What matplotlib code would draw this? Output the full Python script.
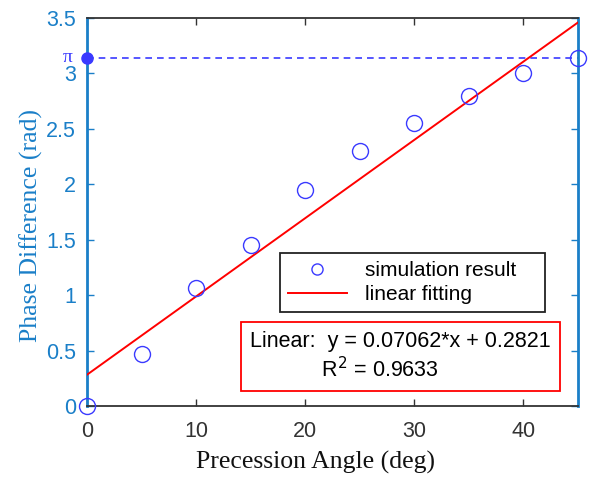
import numpy as np
import matplotlib
matplotlib.use('Agg')
import matplotlib.pyplot as plt
from matplotlib.lines import Line2D

# data
angle = [0, 5, 10, 15, 20, 25, 30, 35, 40, 45]
phase = [0.0, 0.47, 1.06, 1.45, 1.95, 2.30, 2.55, 2.80, 3.00, 3.14]
slope = 0.07062
intercept = 0.2821
r2 = 0.9633
x_ticks = [0, 10, 20, 30, 40]
y_ticks = [0, 0.5, 1, 1.5, 2, 2.5, 3, 3.5]

axis_blue = '#1a7fc8'
mark_blue = '#3a3aff'

plt.rcParams['font.family'] = ['Liberation Sans', 'DejaVu Sans']

fig = plt.figure(figsize=(5.89, 4.79), dpi=100)
ax = fig.add_axes([0.1477, 0.1524, 0.8336, 0.81])

# fitted line
xf = np.array([0, 45])
ax.plot(xf, slope * xf + intercept, color='red', lw=1.4, zorder=3)

# simulation points
ax.plot(angle, phase, 'o', ms=11.5, mfc='none', mec=mark_blue, mew=1.0,
        clip_on=False, zorder=4)

# pi reference
ax.axhline(np.pi, color=mark_blue, ls=(0, (4, 3)), lw=1.2, zorder=2)
ax.plot([0], [np.pi], 'o', ms=8, color=mark_blue, clip_on=False, zorder=5)
ax.text(-1.3, np.pi, 'π', color=mark_blue, fontsize=14, family='Liberation Serif',
        ha='right', va='center')

ax.set_xlim(0, 45)
ax.set_ylim(0, 3.5)
ax.set_xticks(x_ticks)
ax.set_yticks(y_ticks)
ax.set_yticklabels(['0', '0.5', '1', '1.5', '2', '2.5', '3', '3.5'])
ax.tick_params(direction='in', top=True, right=True, length=5, labelsize=15.5, width=1)
ax.tick_params(axis='x', colors='#333333', pad=11)
ax.tick_params(axis='y', colors=axis_blue, pad=8)

for side in ['left', 'right']:
    ax.spines[side].set_color(axis_blue)
    ax.spines[side].set_linewidth(2)
for side in ['top', 'bottom']:
    ax.spines[side].set_color('#333333')
    ax.spines[side].set_linewidth(1.3)

ax.set_xlabel('Precession Angle (deg)', family='Liberation Serif', fontsize=18.5,
              color='#111111')
ax.set_ylabel('Phase Difference (rad)', family='Liberation Serif', fontsize=18.5,
              color=axis_blue)
ax.xaxis.set_label_coords(0.466, -0.115)
ax.yaxis.set_label_coords(-0.09, 0.464)

# legend
handles = [Line2D([], [], marker='o', ls='none', ms=8, mfc='none', mec=mark_blue),
           Line2D([], [], color='red', lw=1.4)]
leg = ax.legend(handles, ['simulation result', 'linear fitting'],
                loc='upper left', bbox_to_anchor=(0.393, 0.394, 0.54, 0.0),
                mode='expand', fontsize=15, borderaxespad=0,
                fancybox=False, framealpha=1, edgecolor='#222222',
                handlelength=2.8, borderpad=0.4, labelspacing=0.22,
                handletextpad=0.9)
leg.get_frame().set_linewidth(1.3)

# fit text box
ax.text(0.638, 0.128, 'Linear:  y = 0.07062*x + 0.2821\n' + ' ' * 12 + 'R$^2$ = %.4f' % r2,
        transform=ax.transAxes, ha='center', va='center', multialignment='left',
        fontsize=15.5, linespacing=1.25,
        bbox=dict(boxstyle='square,pad=0.42', fc='white', ec='red', lw=1.3))

fig.savefig('out.png', dpi=100)
